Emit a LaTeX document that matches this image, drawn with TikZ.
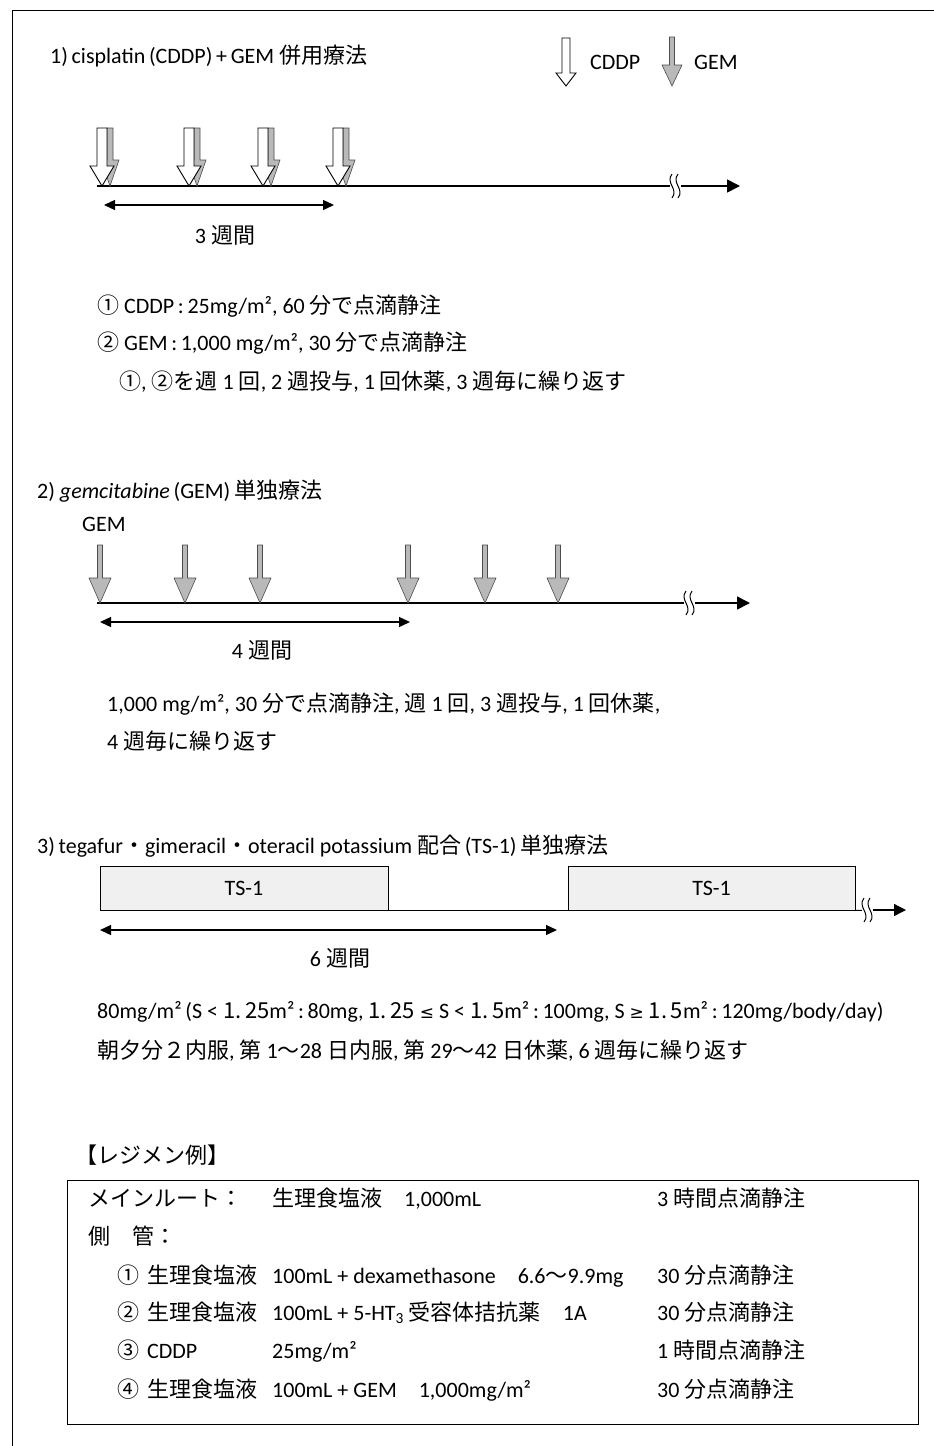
\documentclass[tikz,border=0pt]{standalone}
\usepackage{fontspec}
\setmainfont{Carlito}
\newfontfamily\jp{Noto Sans CJK JP}
\newfontfamily\dv{DejaVu Sans}
\newcommand\J[1]{{\jp #1}}
\newcommand\D[1]{{\dv\fontsize{17}{20}\selectfont #1}}
\usetikzlibrary{arrows.meta}
\newcommand\arrshape[7]{\draw[#7] ({#1-#4},{#2-#3}) -- ({#1+#4},{#2-#3}) -- ({#1+#4},{#2-#5}) -- ({#1+#6},{#2-#5}) -- (#1,#2) -- ({#1-#6},{#2-#5}) -- ({#1-#4},{#2-#5}) -- cycle;}
\newcommand\brk[2]{%
  \fill[white] ({#1-2},{#2-13}) rectangle ({#1+9},{#2+13});
  \draw[line width=1pt] (#1,{#2-12}) .. controls ({#1-7},{#2-3}) and ({#1+7},{#2+3}) .. (#1,{#2+12});
  \draw[line width=1pt] ({#1+6},{#2-12}) .. controls ({#1-1},{#2-3}) and ({#1+13},{#2+3}) .. ({#1+6},{#2+12});}
\begin{document}
\begin{tikzpicture}[x=1pt,y=-1pt,
  txt/.style={anchor=base west, inner sep=0pt, font=\fontsize{22}{26}\selectfont},
  ctxt/.style={anchor=base, inner sep=0pt, font=\fontsize{22}{26}\selectfont},
  rtxt/.style={anchor=base west, inner sep=0pt, font=\fontsize{22}{26}\selectfont},
  cddpst/.style={draw=black, fill=white, line width=0.9pt},
  gemst/.style={draw=gray!60!black, fill=gray!55, line width=0.6pt},
  tl/.style={line width=1.6pt},
  tlend/.style={line width=1.6pt, -{Triangle[length=13pt,width=13pt]}},
  dbl/.style={line width=1.3pt, {Triangle[length=11pt,width=10pt]}-{Triangle[length=11pt,width=10pt]}},
  tsbox/.style={draw=black, line width=1pt, fill=gray!12, inner sep=0pt, font=\fontsize{22}{26}\selectfont},
  frame/.style={line width=1pt}]
\useasboundingbox (0,0) rectangle (934,1446);
% page frame
\draw[frame] (12,1446) -- (12,10) -- (934,10);

% ---------- Section 1 ----------
\node[txt] (title1) at (50,63) {1)\,cisplatin\,(CDDP)\,+\,GEM \J{併用療法}};
\arrshape{566}{86}{48}{4}{13}{10}{cddpst}
\node[txt] (legc) at (590,69) {CDDP};
\arrshape{672}{86}{49}{2.5}{21}{10}{gemst}
\node[txt] (legg) at (694,69) {GEM};

\coordinate (t1s) at (97,186);
\coordinate (t1b) at (678,186);
\coordinate (t1e) at (740,186);
\draw[tl] (t1s) -- (t1b);
\draw[tlend] (t1b) -- (t1e);
\brk{672}{186}
\foreach \x in {102,189,263,338}{
  \arrshape{\x+8}{186}{58}{3}{26}{9}{gemst}
  \arrshape{\x}{186}{58}{5}{20}{12}{cddpst}
}
\coordinate (w1a) at (104,205);
\coordinate (w1b) at (334,205);
\draw[dbl] (w1a) -- (w1b);
\node[ctxt] (w1) at (225,243) {3 \J{週間}};

\node[txt] (l11) at (97,313) {\J{①} CDDP\,:\,25mg/m², 60 \J{分で点滴静注}};
\node[txt] (l12) at (97,350) {\J{②} GEM\,:\,1,000 mg/m², 30 \J{分で点滴静注}};
\node[txt] (l13) at (119,389) {\J{①}, \J{②を週} 1 \J{回}, 2 \J{週投与}, 1 \J{回休薬}, 3 \J{週毎に繰り返す}};

% ---------- Section 2 ----------
\node[txt] (title2) at (37,498) {2) \textit{gemcitabine}\,(GEM)\,\J{単独療法}};
\node[txt] (gemlab) at (82,531) {GEM};
\coordinate (t2s) at (97,603);
\coordinate (t2b) at (692,603);
\coordinate (t2e) at (750,603);
\draw[tl] (t2s) -- (t2b);
\draw[tlend] (t2b) -- (t2e);
\brk{686}{603}
\foreach \x in {100,185,260,408,485,558}{
  \arrshape{\x}{603}{58}{2.5}{25}{11}{gemst}
}
\coordinate (w2a) at (100,622);
\coordinate (w2b) at (410,622);
\draw[dbl] (w2a) -- (w2b);
\node[ctxt] (w2) at (262,658) {4 \J{週間}};
\node[txt] (l21) at (107,711) {1,000 mg/m², 30 \J{分で点滴静注}, \J{週} 1 \J{回}, 3 \J{週投与}, 1 \J{回休薬},};
\node[txt] (l22) at (107,749) {4 \J{週毎に繰り返す}};

% ---------- Section 3 ----------
\node[txt] (title3) at (37,853) {3)\,tegafur\J{・}gimeracil\J{・}oteracil potassium \J{配合}\,(TS-1)\,\J{単独療法}};
\node[tsbox, minimum width=288pt, minimum height=44pt] (ts1) at (244,888) {TS-1};
\node[tsbox, minimum width=287pt, minimum height=44pt] (ts2) at (711.5,888) {TS-1};
\coordinate (t3b) at (872,910);
\coordinate (t3e) at (906,910);
\draw[line width=1pt] (ts1.south east) -- (ts2.south west);
\draw[line width=1pt] (ts2.south east) -- (t3b);
\draw[line width=1.3pt, -{Triangle[length=12pt,width=12pt]}] (t3b) -- (t3e);
\brk{864}{910}
\coordinate (w3a) at (100,930);
\coordinate (w3b) at (557,930);
\draw[dbl] (w3a) -- (w3b);
\node[ctxt] (w3) at (340,966) {6 \J{週間}};
\node[txt] (l31) at (97,1018) {80mg/m²\,(S < \J{1.\,25}m²\,:\,80mg, \J{1.\,25} \D{≤} S < \J{1.\,5}m²\,:\,100mg, S \D{≥} \J{1.\,5}m²\,:\,120mg/body/day)};
\node[txt] (l32) at (97,1058) {\J{朝夕分２内服}, \J{第} 1\J{～}28 \J{日内服}, \J{第} 29\J{～}42 \J{日休薬}, 6 \J{週毎に繰り返す}};

% ---------- Regimen ----------
\node[txt] (reghead) at (75,1163) {\J{【レジメン例】}};
\draw[line width=1pt] (67,1180) rectangle (918,1424);
\node[rtxt] (r1a) at (88,1206) {\J{メインルート：}};
\node[rtxt] (r1b) at (272,1206) {\J{生理食塩液}\quad 1,000mL};
\node[rtxt] (r1c) at (657,1206) {3 \J{時間点滴静注}};
\node[rtxt] (r2a) at (88,1244) {\J{側　管：}};
\node[rtxt] (r3n) at (117,1283) {\J{①}};
\node[rtxt] (r3a) at (147,1283) {\J{生理食塩液}};
\node[rtxt] (r3b) at (272,1283) {100mL + dexamethasone\quad 6.6\J{～}9.9mg};
\node[rtxt] (r3c) at (657,1283) {30 \J{分点滴静注}};
\node[rtxt] (r4n) at (117,1320) {\J{②}};
\node[rtxt] (r4a) at (147,1320) {\J{生理食塩液}};
\node[rtxt] (r4b) at (272,1320) {100mL + 5-HT\textsubscript{3} \J{受容体拮抗薬}\quad 1A};
\node[rtxt] (r4c) at (657,1320) {30 \J{分点滴静注}};
\node[rtxt] (r5n) at (117,1358) {\J{③}};
\node[rtxt] (r5a) at (147,1358) {CDDP};
\node[rtxt] (r5b) at (272,1358) {25mg/m²};
\node[rtxt] (r5c) at (657,1358) {1 \J{時間点滴静注}};
\node[rtxt] (r6n) at (117,1397) {\J{④}};
\node[rtxt] (r6a) at (147,1397) {\J{生理食塩液}};
\node[rtxt] (r6b) at (272,1397) {100mL + GEM\quad 1,000mg/m²};
\node[rtxt] (r6c) at (657,1397) {30 \J{分点滴静注}};
\end{tikzpicture}
\end{document}
